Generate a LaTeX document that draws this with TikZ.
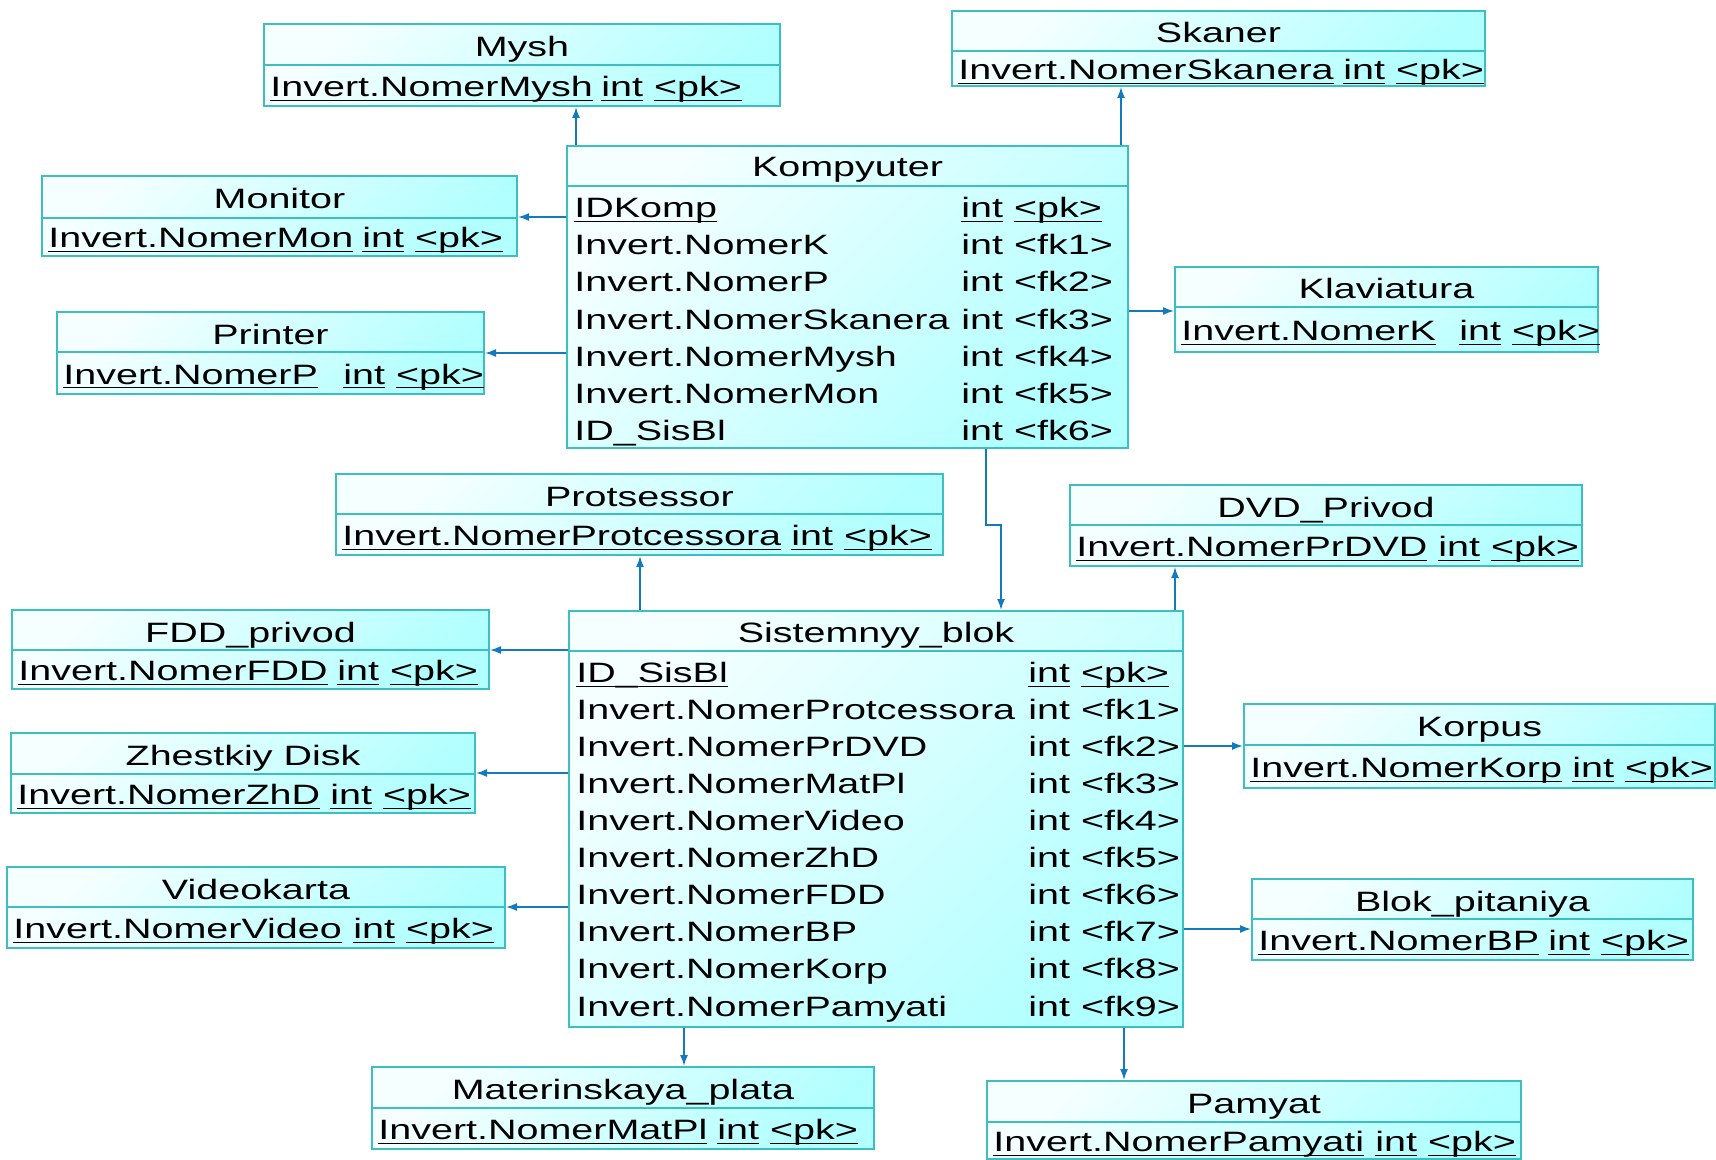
\documentclass[tikz,border=0pt]{standalone}
\usepackage{fontspec}
\setmainfont{Liberation Sans}[FakeStretch=1.41]
\usetikzlibrary{arrows.meta, fit}
\definecolor{boxline}{RGB}{60,190,195}
\definecolor{fkline}{RGB}{20,122,192}
\newcommand{\und}[1]{\setbox0\hbox{#1}\rlap{\rule[-2.2pt]{\wd0}{0.6pt}}\box0\relax}

\begin{document}
\begin{tikzpicture}[x=0.5pt, y=-0.5pt,
    every node/.style={font=\fontsize{14}{16}\selectfont, inner sep=0pt},
    entity/.style={draw=boxline, line width=1pt, top color=cyan!4, bottom color=cyan!30, shading angle=45},
    field/.style={anchor=west, text height=10pt, text depth=0pt},
    fk/.style={draw=fkline, line width=0.8pt, -{Latex[length=5.5pt, width=4pt]}}]
    \useasboundingbox (0,0) rectangle (1716,1160);

    % small tables with one key
    \foreach \nm/\xa/\ya/\xb/\yb/\yd/\ti/\fld/\xi in {
        mysh/264/24/780/106/65/Mysh/Invert.NomerMysh/601,
        skaner/952/11/1485/86/51/Skaner/Invert.NomerSkanera/1343,
        monitor/42/176/517/256/218/Monitor/Invert.NomerMon/362,
        klav/1175/267/1598/352/307/Klaviatura/Invert.NomerK/1459,
        printer/57/312/484/394/352/Printer/Invert.NomerP/343,
        prots/336/474/943/555/514/Protsessor/Invert.NomerProtcessora/791,
        dvd/1070/485/1582/566/525/DVD\_Privod/Invert.NomerPrDVD/1438,
        fdd/12/610/489/689/650/FDD\_privod/Invert.NomerFDD/337,
        zhd/11/733/475/813/774/Zhestkiy Disk/Invert.NomerZhD/330,
        korpus/1244/704/1715/788/745/Korpus/Invert.NomerKorp/1572,
        video/7/867/505/948/907/Videokarta/Invert.NomerVideo/353,
        bp/1252/879/1693/960/919/Blok\_pitaniya/Invert.NomerBP/1548,
        matpl/372/1067/874/1149/1108/Materinskaya\_plata/Invert.NomerMatPl/717,
        pamyat/987/1081/1521/1159/1122/Pamyat/Invert.NomerPamyati/1375} {
        \node[entity, fit={(\xa,\ya) (\xb,\yb)}] (\nm) {};
        \draw[boxline, line width=1pt] (\nm.west |- 0,\yd) -- (\nm.east |- 0,\yd);
        \node[field, anchor=center] (\nm-t) at ({(\xa+\xb)/2},{(\ya+\yd)/2+2}) {\ti};
        \node[field] (\nm-f) at (\xa+6,{(\yd+\yb)/2+1}) {\und{\fld}};
        \node[field] (\nm-k) at (\xi,{(\yd+\yb)/2+1}) {\und{int} \und{<pk>}};
    }

    % Kompyuter
    \node[entity, fit={(567,146) (1128,448)}] (komp) {};
    \draw[boxline, line width=1pt] (komp.west |- 0,186) -- (komp.east |- 0,186);
    \node[field, anchor=center] (komp-t) at (847.5,167) {Kompyuter};
    \node[field] (komp-1) at (574,208) {\und{IDKomp}};
    \node[field] (komp-1-k) at (961,208) {\und{int} \und{<pk>}};
    \foreach \i/\fld in {2/Invert.NomerK, 3/Invert.NomerP, 4/Invert.NomerSkanera,
        5/Invert.NomerMysh, 6/Invert.NomerMon, 7/ID\_SisBl} {
        \pgfmathsetmacro{\yr}{208+(\i-1)*37}
        \pgfmathtruncatemacro{\k}{\i-1}
        \node[field] (komp-\i) at (574,\yr) {\fld};
        \node[field] (komp-\i-k) at (961,\yr) {int <fk\k>};
    }

    % Sistemnyy_blok
    \node[entity, fit={(569,611) (1183,1027)}] (sis) {};
    \draw[boxline, line width=1pt] (sis.west |- 0,651) -- (sis.east |- 0,651);
    \node[field, anchor=center] (sis-t) at (876,632) {Sistemnyy\_blok};
    \node[field] (sis-1) at (576,672.5) {\und{ID\_SisBl}};
    \node[field] (sis-1-k) at (1028,672.5) {\und{int} \und{<pk>}};
    \foreach \i/\fld in {2/Invert.NomerProtcessora, 3/Invert.NomerPrDVD, 4/Invert.NomerMatPl,
        5/Invert.NomerVideo, 6/Invert.NomerZhD, 7/Invert.NomerFDD, 8/Invert.NomerBP,
        9/Invert.NomerKorp, 10/Invert.NomerPamyati} {
        \pgfmathsetmacro{\yr}{672.5+(\i-1)*37.06}
        \pgfmathtruncatemacro{\k}{\i-1}
        \node[field] (sis-\i) at (576,\yr) {\fld};
        \node[field] (sis-\i-k) at (1028,\yr) {int <fk\k>};
    }

    % references
    \draw[fk] (komp.north -| 576,0) -- (mysh.south -| 576,0);
    \draw[fk] (komp.north -| 1121,0) -- (skaner.south -| 1121,0);
    \draw[fk] (komp.west |- 0,217) -- (monitor.east |- 0,217);
    \draw[fk] (komp.west |- 0,353) -- (printer.east |- 0,353);
    \draw[fk] (komp.east |- 0,311) -- (klav.west |- 0,311);
    \draw[fk] (komp.south -| 986,0) -- (986,525) -- (1001,525) -- (sis.north -| 1001,0);
    \draw[fk] (sis.north -| 640,0) -- (prots.south -| 640,0);
    \draw[fk] (sis.north -| 1175,0) -- (dvd.south -| 1175,0);
    \draw[fk] (sis.west |- 0,650) -- (fdd.east |- 0,650);
    \draw[fk] (sis.west |- 0,773) -- (zhd.east |- 0,773);
    \draw[fk] (sis.west |- 0,907) -- (video.east |- 0,907);
    \draw[fk] (sis.east |- 0,746) -- (korpus.west |- 0,746);
    \draw[fk] (sis.east |- 0,929) -- (bp.west |- 0,929);
    \draw[fk] (sis.south -| 684,0) -- (matpl.north -| 684,0);
    \draw[fk] (sis.south -| 1124,0) -- (pamyat.north -| 1124,0);
\end{tikzpicture}
\end{document}
